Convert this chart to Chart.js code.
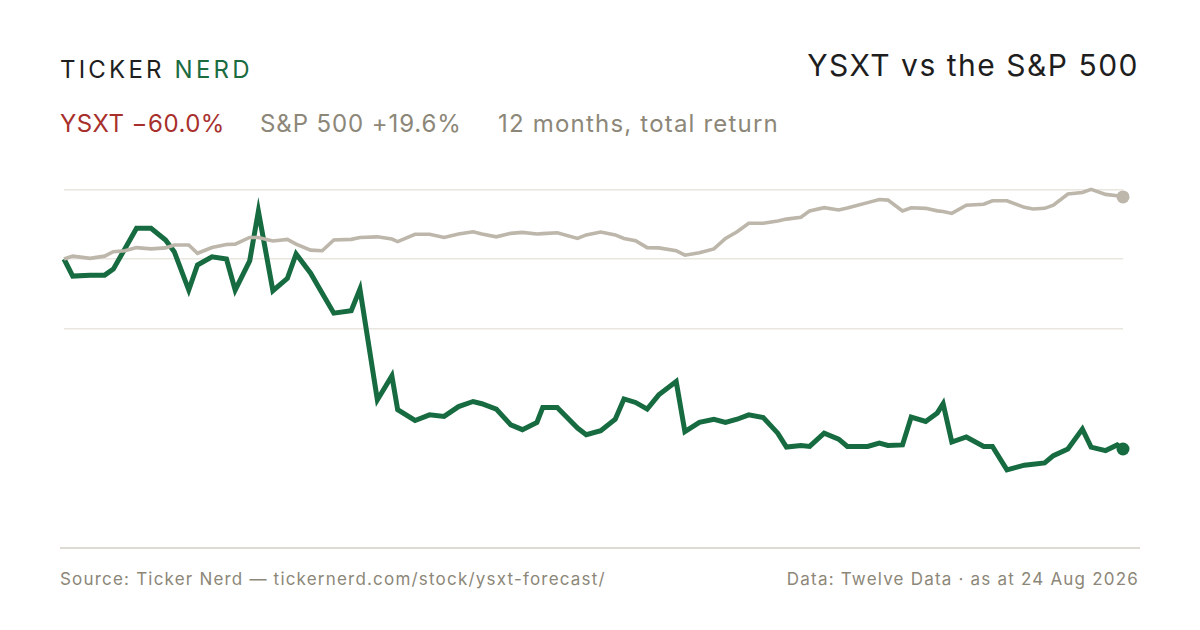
<!DOCTYPE html>
<html>
<head>
<meta charset="utf-8">
<script src="https://cdn.jsdelivr.net/npm/chart.js@4"></script>
<style>
  body { margin: 0; background: #fff; font-family: Inter, "Noto Sans", sans-serif; }
  #page { position: relative; width: 1200px; height: 630px; overflow: hidden; background: #fff; }
  .t { position: absolute; white-space: nowrap; }
  #brand { left: 60px; top: 55px; font-size: 24px; letter-spacing: 3.2px; color: #1e1e1e; }
  #brand span { color: #1b6b41; }
  #title { right: 61px; top: 47px; font-size: 30px; letter-spacing: 1.5px; color: #1e1e1e; }
  .sub { top: 109px; font-size: 24px; letter-spacing: 0.9px; color: #8c8778; }
  #s1 { left: 60px; color: #a8302c; letter-spacing: 0.5px; }
  #s2 { left: 260px; }
  #s3 { left: 498px; letter-spacing: 1.2px; }
  #rule { position: absolute; left: 60px; top: 547px; width: 1080px; height: 2px; background: #dedbd2; }
  .foot { top: 569px; font-size: 17px; letter-spacing: 1.2px; color: #8c8778; }
  #src { left: 60px; }
  #dat { right: 61px; }
  #wrap { position: absolute; left: 54px; top: 154px; width: 1079px; height: 400px; }
</style>
</head>
<body>
<div id="page">
  <div class="t" id="brand">TICKER<span> NERD</span></div>
  <div class="t" id="title">YSXT vs the S&amp;P 500</div>
  <div class="t sub" id="s1">YSXT −60.0%</div>
  <div class="t sub" id="s2">S&amp;P 500 +19.6%</div>
  <div class="t sub" id="s3">12 months, total return</div>
  <div id="wrap"><canvas id="myChart"></canvas></div>
  <div id="rule"></div>
  <div class="t foot" id="src">Source: Ticker Nerd — tickernerd.com/stock/ysxt-forecast/</div>
  <div class="t foot" id="dat">Data: Twelve Data · as at 24 Aug 2026</div>
</div>
<script>
// days since start (24 Aug 2025), total return in %
var days = [0,3,9,14,17,21,25,30,35,38,43,46,51,56,59,64,67,72,77,80,85,89,93,99,102,108,113,115,121,126,131,136,141,144,149,154,158,163,165,170,177,180,185,190,193,197,201,205,211,214,219,224,228,232,236,241,246,249,254,257,262,267,270,277,281,284,289,292,297,301,303,306,311,317,320,325,331,334,338,341,346,351,354,359,363,365];
var ysxt = [0,-5.4,-5.1,-5.1,-3.2,3.2,9.7,9.7,6.0,2.3,-9.8,-1.9,0.7,0,-9.8,-0.6,15.1,-10,-6.1,1.6,-4.5,-10.8,-17.1,-16.3,-9.5,-44.5,-36.9,-47.6,-51,-49.2,-49.7,-46.6,-45,-45.7,-47.4,-52.4,-53.9,-51.6,-46.9,-46.9,-53.4,-55.5,-54.2,-50.6,-44.2,-45.3,-47.4,-42.9,-38.7,-54.5,-51.6,-50.6,-51.6,-50.6,-49.2,-50.1,-55,-59.4,-58.9,-59.2,-55,-56.9,-59.2,-59.2,-58.1,-58.9,-58.7,-49.9,-51.3,-48.6,-45.7,-57.8,-56.2,-59.2,-59.2,-66.6,-65.1,-64.8,-64.4,-62.1,-60,-53.7,-59.4,-60.5,-58.7,-60.0];
var spx = [0,0.9,0.2,0.9,2.3,2.6,3.6,3.2,3.5,4.4,4.4,1.8,3.6,4.6,4.7,6.8,6.8,5.7,6.2,4.7,2.8,2.6,6.0,6.2,6.8,7.0,6.3,5.5,7.8,7.8,6.8,7.9,8.6,7.9,7.0,8.1,8.4,7.9,8.0,8.3,6.5,7.6,8.5,7.6,6.5,5.8,3.6,3.5,2.6,1.2,2.0,3.2,6.5,8.6,11.3,11.3,12.0,12.6,13.2,15.2,16.2,15.5,16.1,17.8,18.8,18.6,15.2,16.2,16.0,15.2,15.0,14.4,17.0,17.3,18.4,18.4,16.3,15.8,16.0,17.0,20.5,21.0,22.0,20.4,20.0,19.6];
var gridValues = [22, 0, -22];

function pts(vals) {
  return vals.map(function (v, i) { return { x: days[i], y: v }; });
}
function lastDot(size) {
  return function (ctx) { return ctx.dataIndex === days.length - 1 ? size : 0; };
}

var totalChart = new Chart("myChart", {
  type: "line",
  data: {
    datasets: [
      {
        data: pts(spx),
        borderColor: "#bdb6aa",
        backgroundColor: "#bdb6aa",
        borderWidth: 3.6,
        pointRadius: lastDot(6.5),
        pointBorderWidth: 0,
        pointHoverRadius: 0,
        tension: 0,
        clip: false,
        fill: false
      },
      {
        data: pts(ysxt),
        borderColor: "#176b40",
        backgroundColor: "#176b40",
        borderWidth: 5,
        pointRadius: lastDot(6.5),
        pointBorderWidth: 0,
        pointHoverRadius: 0,
        tension: 0,
        clip: false,
        fill: false
      }
    ]
  },
  options: {
    responsive: true,
    maintainAspectRatio: false,
    animation: false,
    layout: { padding: { left: 10, right: 10, top: 10, bottom: 10 } },
    plugins: { legend: { display: false }, tooltip: { enabled: false } },
    scales: {
      x: { type: "linear", min: 0, max: 365, display: false },
      y: {
        min: -90, max: 30,
        afterBuildTicks: function (axis) {
          axis.ticks = gridValues.map(function (v) { return { value: v }; });
        },
        ticks: { display: false },
        border: { display: false },
        grid: { color: "#e9e6df", lineWidth: 1.5, drawTicks: false }
      }
    }
  }
});
</script>
</body>
</html>
